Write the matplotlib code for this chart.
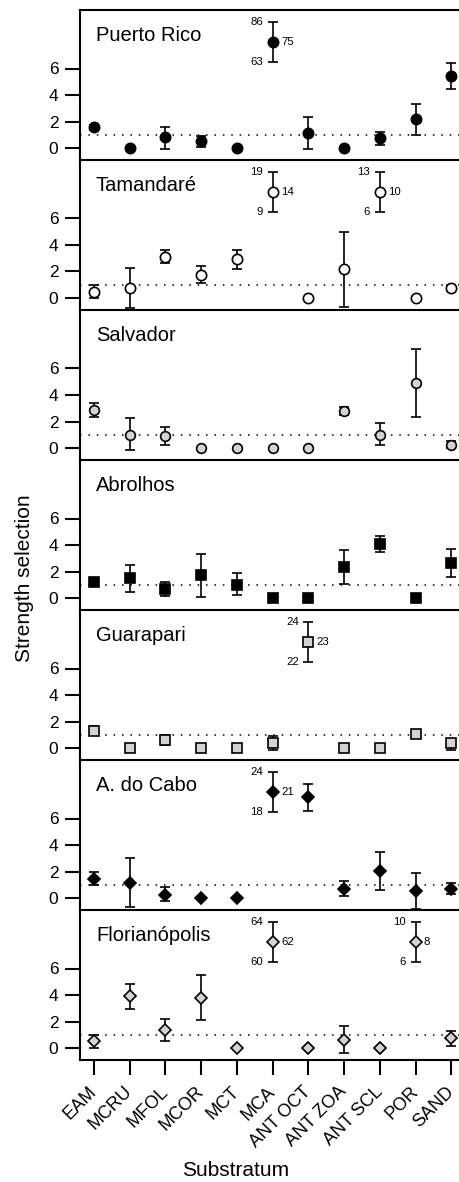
import matplotlib
matplotlib.use("Agg")
import matplotlib.pyplot as plt

plt.rcParams['font.family'] = ['Liberation Sans', 'DejaVu Sans']

# ---------------- data ----------------
categories = ["EAM", "MCRU", "MFOL", "MCOR", "MCT", "MCA",
              "ANT OCT", "ANT ZOA", "ANT SCL", "POR", "SAND"]
sites = ["Puerto Rico", "Tamandaré", "Salvador", "Abrolhos",
         "Guarapari", "A. do Cabo", "Florianópolis"]

N = None
pr_mean = [1.55, 0, 0.80, 0.50, 0, 75, 1.12, 0, 0.75, 2.17, 5.45]
pr_lo   = [1.33, N, -0.05, 0.07, N, 63, -0.10, N, 0.22, 0.97, 4.47]
pr_hi   = [1.72, N, 1.62, 0.92, N, 86, 2.33, N, 1.22, 3.30, 6.45]

ta_mean = [0.45, 0.72, 3.13, 1.74, 2.93, 14, 0, 2.17, 10, 0, 0.78]
ta_lo   = [0.00, -0.77, 2.65, 1.10, 2.17, 9, N, -0.67, 6, N, 0.55]
ta_hi   = [0.97, 2.25, 3.60, 2.38, 3.63, 19, N, 5.00, 13, N, 0.97]

sa_mean = [2.85, 1.00, 0.91, 0, 0, 0, 0, 2.80, 1.00, 4.89, 0.23]
sa_lo   = [2.37, -0.15, 0.23, N, N, N, N, 2.47, 0.23, 2.37, -0.03]
sa_hi   = [3.38, 2.30, 1.59, N, N, N, N, 3.13, 1.87, 7.46, 0.50]

ab_mean = [1.20, 1.49, 0.71, 1.72, 1.01, 0, 0, 2.34, 4.11, 0, 2.62]
ab_lo   = [1.00, 0.48, 0.18, 0.08, 0.20, N, N, 1.09, 3.48, N, 1.59]
ab_hi   = [1.40, 2.47, 1.24, 3.30, 1.87, N, N, 3.60, 4.69, N, 3.73]

gu_mean = [1.32, 0, 0.62, 0, 0, 0.38, 23, 0, 0, 1.05, 0.38]
gu_lo   = [0.98, N, 0.25, N, N, -0.13, 22, N, N, 0.80, -0.18]
gu_hi   = [1.68, N, 0.95, N, N, 0.92, 24, N, N, 1.30, 0.70]

ac_mean = [1.46, 1.13, 0.25, 0, 0, 21, 7.60, 0.68, 2.01, 0.50, 0.68]
ac_lo   = [1.00, -0.71, -0.26, N, N, 18, 6.60, 0.12, 0.57, -0.83, 0.27]
ac_hi   = [1.94, 3.00, 0.80, N, N, 24, 8.57, 1.26, 3.45, 1.86, 1.10]

fl_mean = [0.55, 3.90, 1.38, 3.78, 0, 62, 0, 0.63, 0, 8, 0.73]
fl_lo   = [0.00, 2.97, 0.55, 2.12, N, 60, N, -0.40, N, 6, 0.13]
fl_hi   = [1.00, 4.81, 2.22, 5.49, N, 64, N, 1.67, N, 10, 1.30]

# categories shown as off-scale (annotated) values per site
annotated = {
    "Puerto Rico": ["MCA"],
    "Tamandaré": ["MCA", "ANT SCL"],
    "Salvador": [],
    "Abrolhos": [],
    "Guarapari": ["ANT OCT"],
    "A. do Cabo": ["MCA"],
    "Florianópolis": ["MCA", "POR"],
}

means = [pr_mean, ta_mean, sa_mean, ab_mean, gu_mean, ac_mean, fl_mean]
lows = [pr_lo, ta_lo, sa_lo, ab_lo, gu_lo, ac_lo, fl_lo]
highs = [pr_hi, ta_hi, sa_hi, ab_hi, gu_hi, ac_hi, fl_hi]

yticks = [0, 2, 4, 6]
ref_level = 1

# ---------------- styles ----------------
GRAY = "#d3d3d3"
styles = [
    dict(marker="o", mfc="black", ms=7.4),
    dict(marker="o", mfc="white", ms=7.4),
    dict(marker="o", mfc=GRAY, ms=7.0),
    dict(marker="s", mfc="black", ms=6.6),
    dict(marker="s", mfc=GRAY, ms=6.6),
    dict(marker="D", mfc="black", ms=6.0),
    dict(marker="D", mfc=GRAY, ms=6.0),
]

BREAK_Y = 8.0
BREAK_HALF = 1.5

W, H = 460, 1182
fig = plt.figure(figsize=(W / 100, H / 100), dpi=100)

left_px, right_px = 80, 460
top0, ph = 10, 150
px_per_unit = 13.25
zero_off = 12.0
ymin = -zero_off / px_per_unit
ymax = ymin + ph / px_per_unit
x_per_unit = 35.73
xmin = 1 - 14 / x_per_unit
xmax = xmin + (right_px - left_px) / x_per_unit

xs = list(range(1, len(categories) + 1))

for i, site in enumerate(sites):
    top_px = top0 + ph * i
    bot_px = top_px + ph
    ax = fig.add_axes([left_px / W, 1 - bot_px / H, (right_px - left_px) / W, ph / H])
    ax.set_xlim(xmin, xmax)
    ax.set_ylim(ymin, ymax)
    ax.set_facecolor("none")
    ax.spines["right"].set_visible(False)
    if i != 0:
        ax.spines["top"].set_visible(False)
    for s in ["left", "bottom", "top"]:
        ax.spines[s].set_linewidth(1.5)

    ax.axhline(ref_level, color="black", lw=1.1, ls=(0, (1, 4.5)), zorder=1)

    st = styles[i]
    m, lo, hi = means[i], lows[i], highs[i]
    for j, cat in enumerate(categories):
        x = xs[j]
        if cat in annotated[site]:
            y, ylo, yhi = BREAK_Y, BREAK_Y - BREAK_HALF, BREAK_Y + BREAK_HALF
        else:
            y, ylo, yhi = m[j], lo[j], hi[j]
        if ylo is not None:
            ax.errorbar([x], [y], yerr=[[y - ylo], [yhi - y]], fmt="none",
                        ecolor="black", elinewidth=1.2, capsize=3.5,
                        capthick=1.2, zorder=2)
        ax.plot([x], [y], linestyle="none", marker=st["marker"],
                markerfacecolor=st["mfc"], markeredgecolor="black",
                markeredgewidth=1.2, markersize=st["ms"], zorder=3)
        if cat in annotated[site]:
            fmt = lambda v: f"{v:g}"
            ax.annotate(fmt(hi[j]), (x, yhi), xytext=(-7, 0),
                        textcoords="offset points", ha="right", va="center",
                        fontsize=8.2)
            ax.annotate(fmt(m[j]), (x, y), xytext=(6, 0),
                        textcoords="offset points", ha="left", va="center",
                        fontsize=8.2)
            ax.annotate(fmt(lo[j]), (x, ylo), xytext=(-7, 0),
                        textcoords="offset points", ha="right", va="center",
                        fontsize=8.2)

    ax.text(0.042, 1 - 31.3 / ph, site, transform=ax.transAxes,
            fontsize=14.5, va="baseline", ha="left")

    ax.set_yticks(yticks)
    ax.set_yticklabels([str(t) for t in yticks])
    ax.tick_params(axis="y", length=10.5, width=1.5, labelsize=12.5, pad=5)
    if i == len(sites) - 1:
        ax.set_xticks(xs)
        ax.set_xticklabels(categories, rotation=45, ha="right",
                           va="center", rotation_mode="anchor")
        ax.tick_params(axis="x", length=11, width=1.5, labelsize=13, pad=10)
    else:
        ax.set_xticks([])

fig.text(25 / W, 1 - 578 / H, "Strength selection", rotation=90,
         ha="center", va="center", fontsize=15)
fig.text(235.5 / W, 1 - 1170 / H, "Substratum", ha="center", va="center",
         fontsize=15)

fig.savefig("out.png", dpi=100)
